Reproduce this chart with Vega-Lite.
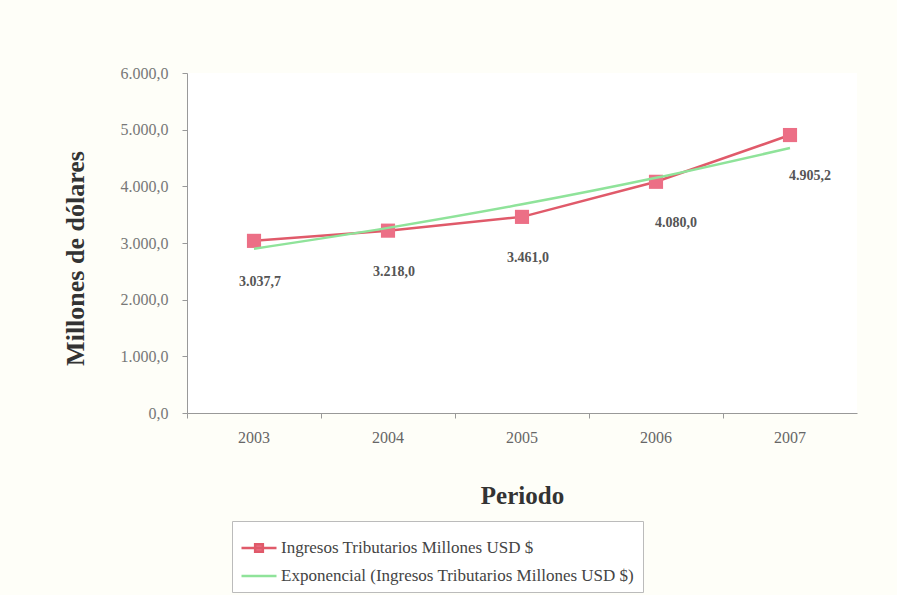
{
  "$schema": "https://vega.github.io/schema/vega-lite/v6.json",
  "width": 670,
  "height": 340,
  "autosize": {"type": "none"},
  "padding": {"left": 187, "top": 73, "right": 40, "bottom": 182},
  "background": "#FEFEF8",
  "config": {
    "locale": {"number": {"decimal": ",", "thousands": ".", "grouping": [3], "currency": ["", ""]}},
    "view": {"stroke": null, "fill": "white"},
    "font": "Liberation Serif"
  },
  "data": {
    "values": [
      {"year": "2003", "value": 3037.7, "series": "Ingresos Tributarios Millones USD $"},
      {"year": "2004", "value": 3218.0, "series": "Ingresos Tributarios Millones USD $"},
      {"year": "2005", "value": 3461.0, "series": "Ingresos Tributarios Millones USD $"},
      {"year": "2006", "value": 4080.0, "series": "Ingresos Tributarios Millones USD $"},
      {"year": "2007", "value": 4905.2, "series": "Ingresos Tributarios Millones USD $"},
      {"year": "2003", "value": 2899, "series": "Exponencial (Ingresos Tributarios Millones USD $)"},
      {"year": "2004", "value": 3267, "series": "Exponencial (Ingresos Tributarios Millones USD $)"},
      {"year": "2005", "value": 3682, "series": "Exponencial (Ingresos Tributarios Millones USD $)"},
      {"year": "2006", "value": 4150, "series": "Exponencial (Ingresos Tributarios Millones USD $)"},
      {"year": "2007", "value": 4677, "series": "Exponencial (Ingresos Tributarios Millones USD $)"}
    ]
  },
  "encoding": {
    "x": {
      "field": "year", "type": "ordinal",
      "scale": {"type": "band", "paddingInner": 0, "paddingOuter": 0},
      "axis": {
        "title": "Periodo", "labelAngle": 0, "bandPosition": 0,
        "labelFont": "Liberation Serif", "labelFontSize": 16, "labelColor": "#666",
        "labelPadding": 11, "tickSize": 5, "tickColor": "#999", "domainColor": "#999",
        "titleFont": "Liberation Serif", "titleFontSize": 25, "titleFontWeight": "bold", "titleColor": "#333",
        "titlePadding": 38
      }
    },
    "y": {
      "field": "value", "type": "quantitative",
      "scale": {"domain": [0, 6000], "nice": false},
      "axis": {
        "title": "Millones de dólares", "values": [0, 1000, 2000, 3000, 4000, 5000, 6000],
        "format": ",.1f", "grid": false,
        "labelFont": "Liberation Serif", "labelFontSize": 16, "labelColor": "#777",
        "labelPadding": 14, "tickSize": 5, "tickColor": "#999", "domainColor": "#999",
        "titleFont": "Liberation Serif", "titleFontSize": 26, "titleFontWeight": "bold", "titleColor": "#333",
        "titlePadding": 32, "titleY": 185
      }
    }
  },
  "layer": [
    {
      "transform": [{"filter": "datum.series == 'Ingresos Tributarios Millones USD $'"}],
      "mark": {"type": "line", "strokeWidth": 2.5},
      "encoding": {
        "color": {
          "field": "series", "type": "nominal",
          "scale": {
            "domain": ["Ingresos Tributarios Millones USD $", "Exponencial (Ingresos Tributarios Millones USD $)"],
            "range": ["#E05A6A", "#8FE39A"]
          },
          "legend": {
            "orient": "none", "legendX": 45, "legendY": 448,
            "title": "\u00a0\u00a0\u00a0\u00a0\u00a0\u00a0\u00a0\u00a0\u00a0\u00a0\u00a0\u00a0\u00a0\u00a0\u00a0\u00a0\u00a0\u00a0\u00a0\u00a0\u00a0\u00a0\u00a0\u00a0\u00a0\u00a0\u00a0\u00a0\u00a0\u00a0\u00a0\u00a0\u00a0\u00a0\u00a0\u00a0\u00a0\u00a0\u00a0\u00a0",
            "titleOrient": "right", "titleFontSize": 16, "titlePadding": 0,
            "direction": "vertical", "strokeColor": "#BBBBBB", "padding": 8, "fillColor": "white",
            "symbolType": "stroke", "symbolSize": 1225, "symbolStrokeWidth": 2.5,
            "rowPadding": 0, "labelOffset": 3, "labelLimit": 1000,
            "labelFont": "Liberation Serif", "labelFontSize": 17, "labelColor": "#444",
            "values": ["Ingresos Tributarios Millones USD $", "Exponencial (Ingresos Tributarios Millones USD $)"],
            "encode": {
              "symbols": {
                "update": {
                  "shape": {"signal": "datum.value == 'Ingresos Tributarios Millones USD $' ? 'M-1,0H1M-0.22,-0.22H0.22V0.22H-0.22Z' : 'M-1,0H1'"},
                  "fill": {"signal": "datum.value == 'Ingresos Tributarios Millones USD $' ? '#EC6F86' : 'transparent'"}
                }
              }
            }
          }
        }
      }
    },
    {
      "transform": [{"filter": "datum.series == 'Ingresos Tributarios Millones USD $'"}],
      "mark": {"type": "point", "shape": "square", "filled": true, "size": 200, "color": "#EC6F86", "opacity": 1}
    },
    {
      "transform": [{"filter": "datum.series != 'Ingresos Tributarios Millones USD $'"}],
      "mark": {"type": "line", "strokeWidth": 2.5, "interpolate": "monotone"},
      "encoding": {"color": {"field": "series", "type": "nominal"}}
    },
    {
      "transform": [{"filter": "datum.series == 'Ingresos Tributarios Millones USD $' && datum.year < '2006'"}],
      "mark": {"type": "text", "dy": 41, "dx": 6, "fontWeight": "bold", "fontSize": 14, "color": "#555", "font": "Liberation Serif"},
      "encoding": {"text": {"field": "value", "type": "quantitative", "format": ",.1f"}}
    },
    {
      "transform": [{"filter": "datum.series == 'Ingresos Tributarios Millones USD $' && datum.year >= '2006'"}],
      "mark": {"type": "text", "dy": 41, "dx": 20, "fontWeight": "bold", "fontSize": 14, "color": "#555", "font": "Liberation Serif"},
      "encoding": {"text": {"field": "value", "type": "quantitative", "format": ",.1f"}}
    }
  ]
}
